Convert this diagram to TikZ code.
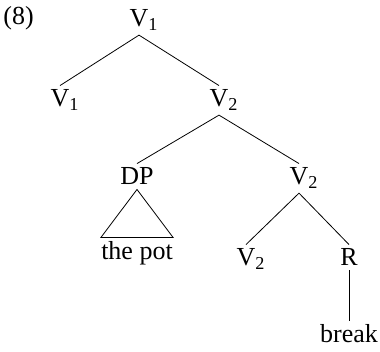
\documentclass[tikz,border=0pt]{standalone}
\usepackage{fontspec}
\setmainfont{Liberation Serif}
\usepackage{tikz}
\usetikzlibrary{calc}

\begin{document}
\begin{tikzpicture}[x=1pt,y=-1pt,font=\fontsize{26}{31}\selectfont,line width=0.8pt,
  cat/.style={anchor=base,inner sep=4pt}]
\useasboundingbox (0,0) rectangle (380,352);
\node[anchor=base west,inner sep=0pt] (ex) at (3,25) {(8)};
\node[cat] (top) at (139,27) {V\rlap{\textsubscript{1}}};
\node[cat] (v1) at (60,107) {V\rlap{\textsubscript{1}}};
\node[cat] (v2a) at (219,107) {V\rlap{\textsubscript{2}}};
\node[cat] (dp) at (137,185) {DP};
\node[cat] (v2b) at (299,185) {V\rlap{\textsubscript{2}}};
\node[cat,inner xsep=0pt] (pot) at (137,260) {the pot};
\node[cat] (v2c) at (246,266) {V\rlap{\textsubscript{2}}};
\node[cat] (r) at (349,266) {R};
\node[cat] (brk) at (349,343) {break};
\draw (v1.north)--(top.south)--(v2a.north);
\draw (dp.north)--(v2a.south)--(v2b.north);
\draw (dp.south)--(pot.north west)--(pot.north east)--cycle;
\draw (v2c.north)--(v2b.south)--(r.north);
\draw (r.south)--(brk.north);
\end{tikzpicture}
\end{document}
